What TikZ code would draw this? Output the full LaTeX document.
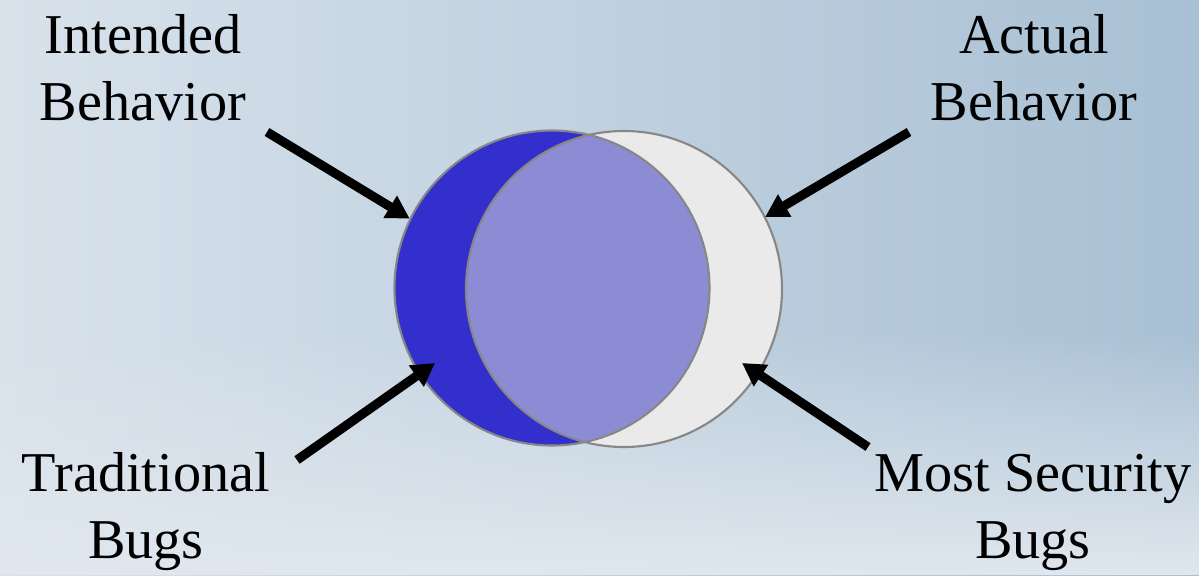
\documentclass[tikz,border=0pt]{standalone}
\usepackage{fontspec}
\setmainfont{Liberation Serif}
\usepackage{xcolor}
\usepackage{tikz}
\usetikzlibrary{arrows.meta, positioning, fadings}
\definecolor{bgleft}{RGB}{216, 226, 235}
\definecolor{bgright}{RGB}{168, 192, 212}
\definecolor{bglow}{RGB}{224, 231, 238}
\definecolor{bugblue}{RGB}{51, 47, 204}
\definecolor{overlap}{RGB}{140, 140, 212}
\definecolor{bugwhite}{RGB}{234, 234, 234}
\definecolor{rimgray}{RGB}{135, 135, 135}

\begin{document}
\begin{tikzpicture}[x=0.01cm, y=-0.01cm, >={Triangle[length=6.5pt, width=7pt]},
    venn/.style={circle, minimum size=3.15cm, inner sep=0pt},
    label/.style={align=center, anchor=base, font=\fontsize{16}{19}\selectfont},
    pointer/.style={->, line width=2.6pt}]
    % background
    \shade[left color=bgleft, right color=bgright] (0,0) rectangle (1199,575);
    \fill[bglow, path fading=north] (0,330) rectangle (1199,575);
    \useasboundingbox (0,0) rectangle (1199,575);
    % the two behaviours
    \node[venn, fill=bugblue] (intended) at (552,288) {};
    \node[venn, fill=bugwhite] (actual) at (624,289) {};
    \begin{scope}
        \clip (intended.center) circle (157.5);
        \fill[overlap] (actual.center) circle (158);
    \end{scope}
    \draw[rimgray, line width=0.6pt] (intended.center) circle (157.5);
    \draw[rimgray, line width=0.6pt] (actual.center) circle (158);
    % labels (base = last line)
    \node[label] (intlabel) at (143,120) {Intended\\Behavior};
    \node[label] (actlabel) at (1034,120) {Actual\\Behavior};
    \node[label] (tradlabel) at (146,558) {Traditional\\Bugs};
    \node[label] (seclabel) at (1033,558) {Most Security\\Bugs};
    % arrows
    \coordinate (inttail) at (267,132);
    \coordinate (acttail) at (909,132);
    \coordinate (tradtail) at (297,460);
    \coordinate (sectail) at (868,447);
    \coordinate (tradtip) at (435,363);
    \coordinate (sectip) at (742,363);
    \draw[pointer] (inttail) -- (intended.154);
    \draw[pointer] (acttail) -- (actual.27);
    \draw[pointer] (tradtail) -- (tradtip);
    \draw[pointer] (sectail) -- (sectip);
\end{tikzpicture}
\end{document}
